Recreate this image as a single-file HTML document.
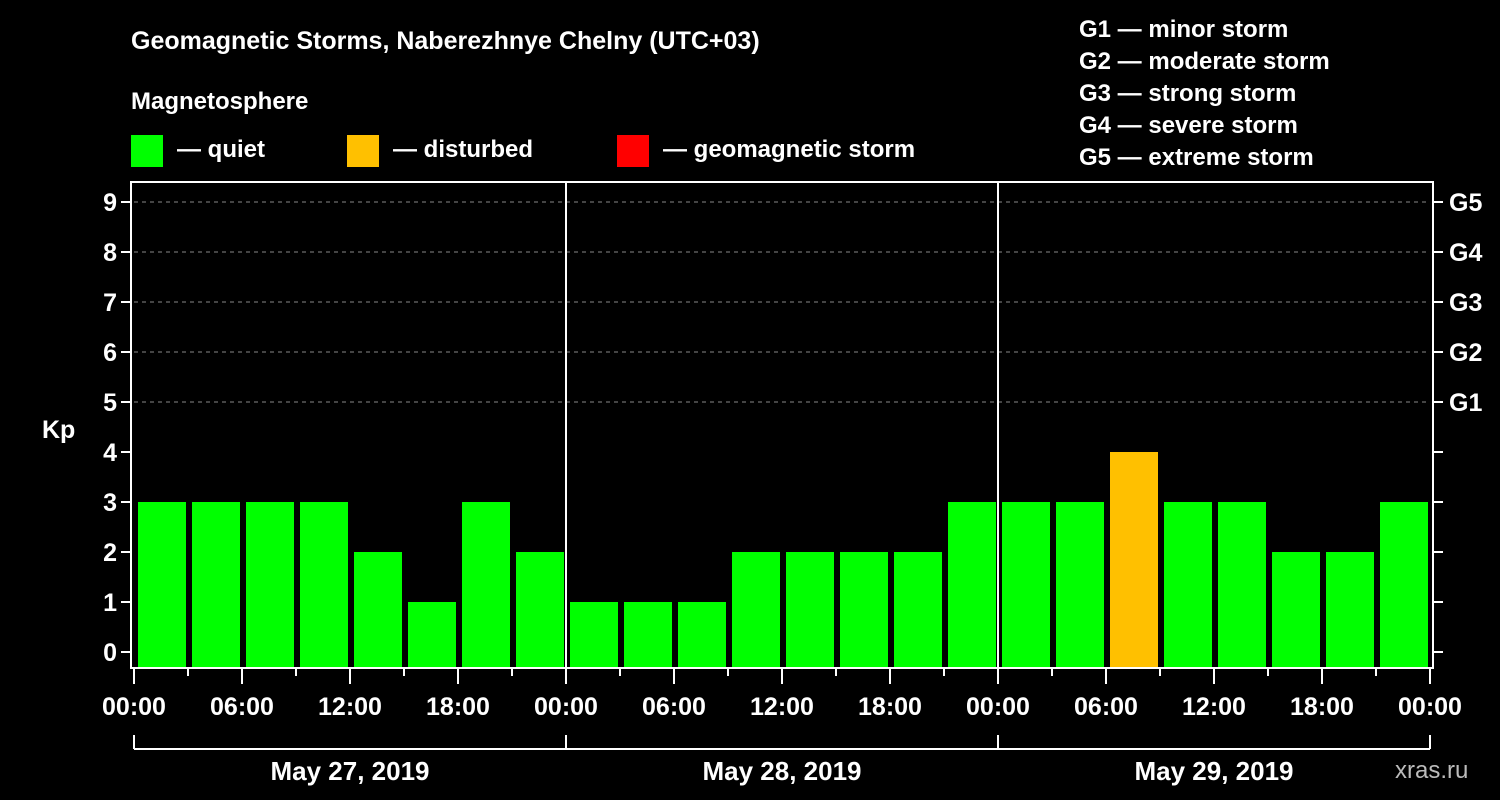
<!DOCTYPE html>
<html><head><meta charset="utf-8"><style>
body{margin:0;background:#000;width:1500px;height:800px;overflow:hidden}
svg{display:block;font-family:"Liberation Sans",sans-serif;font-weight:bold}
</style></head><body>
<svg id="c" width="1500" height="800" xmlns="http://www.w3.org/2000/svg">
<rect width="1500" height="800" fill="#000"/>
<text x="131" y="49" fill="#fff" font-size="25">Geomagnetic Storms, Naberezhnye Chelny (UTC+03)</text>
<text x="131" y="109" fill="#fff" font-size="24">Magnetosphere</text>
<g><rect x="131" y="135" width="32" height="32" fill="#00ff00"/><text x="177" y="157" fill="#fff" font-size="24">— quiet</text></g>
<g><rect x="347" y="135" width="32" height="32" fill="#ffc000"/><text x="393" y="157" fill="#fff" font-size="24">— disturbed</text></g>
<g><rect x="617" y="135" width="32" height="32" fill="#ff0000"/><text x="663" y="157" fill="#fff" font-size="24">— geomagnetic storm</text></g>
<g fill="#fff" font-size="24">
<text x="1079" y="37">G1 — minor storm</text>
<text x="1079" y="69">G2 — moderate storm</text>
<text x="1079" y="101">G3 — strong storm</text>
<text x="1079" y="133">G4 — severe storm</text>
<text x="1079" y="165">G5 — extreme storm</text>
</g>
<text x="42" y="438" fill="#fff" font-size="25">Kp</text>
<text x="1395" y="778" fill="#bbb" font-size="24" font-weight="normal">xras.ru</text>
<g id="plot"></g>
</svg>
<script>
const kpValues=[3,3,3,3,2,1,3,2, 1,1,1,2,2,2,2,3, 3,3,4,3,3,2,2,3];
const dayLabels=["May 27, 2019","May 28, 2019","May 29, 2019"];
const hourLabels=["00:00","06:00","12:00","18:00"];
const yTicks=[0,1,2,3,4,5,6,7,8,9];
const gLabels=["G1","G2","G3","G4","G5"];
const NS="http://www.w3.org/2000/svg";
const L=134,R=1430,T=182,B=668;
const slot=(R-L)/kpValues.length;
const y=v=>652-v*50;
const x=i=>L+i*slot;
const g=document.getElementById('plot');
function el(t,a,p){const e=document.createElementNS(NS,t);for(const k in a)e.setAttribute(k,a[k]);(p||g).appendChild(e);return e;}
// grid
yTicks.filter(v=>v>=5).forEach(v=>{const l=el('line',{x1:L,x2:R,y1:y(v),y2:y(v),stroke:'#888','stroke-dasharray':'4,4'});

});
// bars
kpValues.forEach((v,i)=>{const c=v>=5?'#ff0000':(v>=4?'#ffc000':'#00ff00');
const r=el('rect',{x:x(i)+4,y:y(v),width:slot-6,height:B-1-y(v),fill:c});

});
// frame
const f=el('rect',{x:L-3,y:T,width:R-L+6,height:B-T,fill:'none',stroke:'#fff','stroke-width':2});


// day dividers
[1,2].forEach(d=>{const l=el('line',{x1:L+d*8*slot,x2:L+d*8*slot,y1:T,y2:B,stroke:'#fff','stroke-width':2});

});
// y ticks
yTicks.forEach(v=>{el('line',{x1:L-13,x2:L-3,y1:y(v),y2:y(v),stroke:'#fff','stroke-width':2});
const t=el('text',{x:L-17,y:y(v)+9,fill:'#fff','font-size':25,'text-anchor':'end'});t.textContent=v;


el('line',{x1:R+3,x2:R+13,y1:y(v),y2:y(v),stroke:'#fff','stroke-width':2});});
gLabels.forEach((s,i)=>{const t=el('text',{x:1449,y:y(5+i)+9,fill:'#fff','font-size':25});t.textContent=s;

});
// x ticks
for(let i=0;i<=kpValues.length;i++){const major=i%2==0;
el('line',{x1:x(i),x2:x(i),y1:B,y2:B+(major?16:8),stroke:'#fff','stroke-width':2});
if(major){const t=el('text',{x:x(i),y:B+47,fill:'#fff','font-size':25,'text-anchor':'middle'});t.textContent=hourLabels[(i/2)%4];

}}
// day brackets
el('line',{x1:L,x2:R,y1:749,y2:749,stroke:'#fff','stroke-width':2});
for(let d=0;d<=3;d++)el('line',{x1:L+d*8*slot,x2:L+d*8*slot,y1:735,y2:749,stroke:'#fff','stroke-width':2});
dayLabels.forEach((s,d)=>{const t=el('text',{x:L+(d+0.5)*8*slot,y:780,fill:'#fff','font-size':26,'text-anchor':'middle'});t.textContent=s;

});
</script>
</body></html>
